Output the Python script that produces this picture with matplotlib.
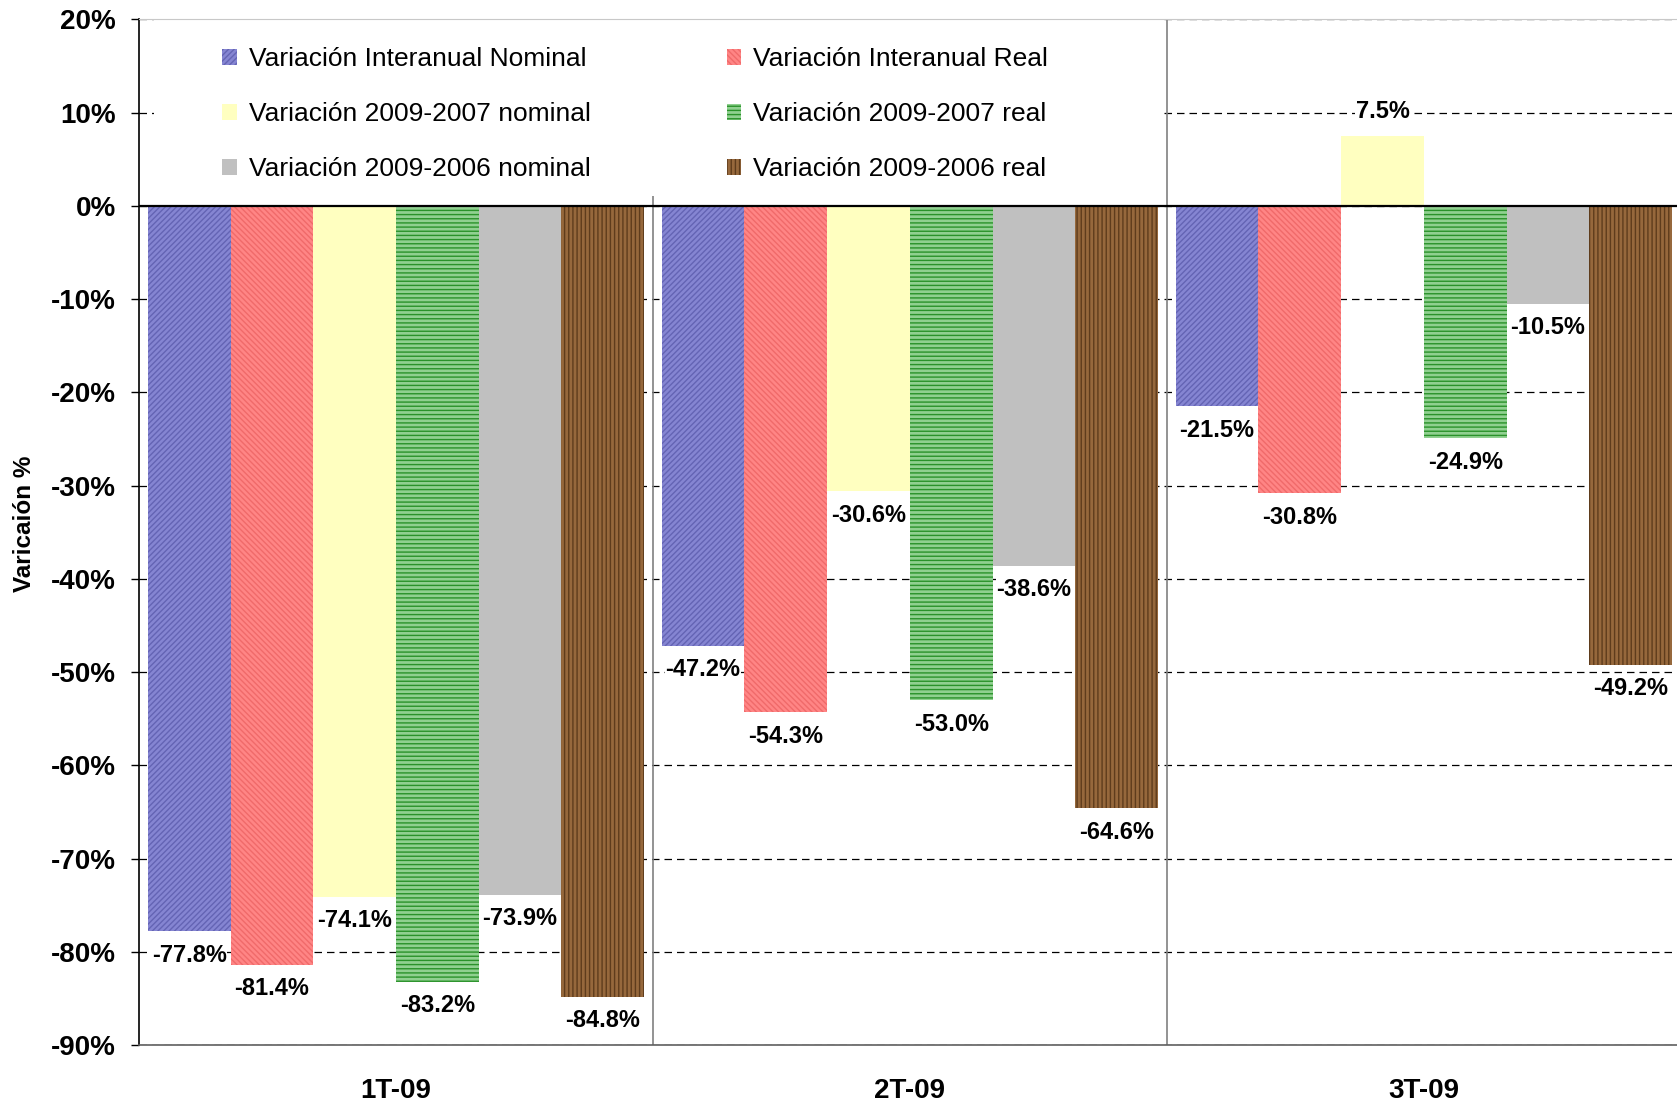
import matplotlib.pyplot as plt
import numpy as np
from matplotlib.patches import Rectangle

plt.rcParams['hatch.linewidth'] = 1.0

# data
quarters = ["1T-09", "2T-09", "3T-09"]
series = ["Variación Interanual Nominal", "Variación Interanual Real",
          "Variación 2009-2007 nominal", "Variación 2009-2007 real",
          "Variación 2009-2006 nominal", "Variación 2009-2006 real"]
inter_nom = [-77.8, -47.2, -21.5]
inter_real = [-81.4, -54.3, -30.8]
v07_nom = [-74.1, -30.6, 7.5]
v07_real = [-83.2, -53.0, -24.9]
v06_nom = [-73.9, -38.6, -10.5]
v06_real = [-84.8, -64.6, -49.2]
values = [inter_nom, inter_real, v07_nom, v07_real, v06_nom, v06_real]

faces = ['#8585D2', '#FF8585', '#FFFFC0', '#90D090', '#C0C0C0', '#96683C']
hatch_cols = ['#6464B4', '#F06A6A', '#FFFFC0', '#2A922A', '#C0C0C0', '#5E3C1C']
hatches = ['//////', '\\\\\\\\\\\\', None, '----', None, '||||']

narrow = ['Liberation Sans Narrow', 'Liberation Sans', 'DejaVu Sans']

fig = plt.figure(figsize=(16.77, 11.04), dpi=100)
ax = fig.add_axes([0.0829, 0.0534, 0.9194, 0.9291])

x = np.arange(len(quarters))
w = 0.161
bars = []
for i, vals in enumerate(values):
    b = ax.bar(x + (i - 2.5) * w, vals, w, color=faces[i], edgecolor=hatch_cols[i],
               linewidth=0, hatch=hatches[i], label=series[i], zorder=2)
    bars.append(b)
    ax.bar_label(b, labels=[f"{v:.1f}%" for v in vals], padding=9,
                 fontsize=17, fontweight='bold', family=narrow,
                 bbox=dict(facecolor='white', edgecolor='none', pad=0.5), zorder=3)

ax.set_xlim(-0.5, 2.5)
ax.set_ylim(-90, 20)
ax.set_yticks(range(-90, 21, 10))
ax.set_yticklabels([f"{v}%" for v in range(-90, 21, 10)], fontsize=20,
                   fontweight='bold', family=narrow)
ax.set_xticks(x)
ax.set_xticklabels(quarters, fontsize=20, fontweight='bold', family=narrow)
ax.tick_params(axis='x', length=0, pad=24)
ax.tick_params(axis='y', length=5.5, width=1, direction='out', pad=11)

ax.set_axisbelow(True)
ax.yaxis.grid(True, linestyle=(0, (6, 4)), color='black', linewidth=0.9)
ax.axhline(0, color='black', linewidth=1.6, zorder=2.5)
ax.vlines([0.5], -90, 1, color='#808080', linewidth=1.2, zorder=1)
ax.vlines([1.5], -90, 20, color='#808080', linewidth=1.2, zorder=1)

ax.spines['left'].set_color('black')
ax.spines['left'].set_linewidth(1.2)
ax.spines['bottom'].set_color('#606060')
ax.spines['bottom'].set_linewidth(1.2)
ax.spines['top'].set_color('#C8C8C8')
ax.spines['right'].set_visible(False)

# white legend area
ax.add_patch(Rectangle((-0.47, 1), 1.965, 19, facecolor='white', edgecolor='none', zorder=1.5))

order = [0, 2, 4, 1, 3, 5]
leg = ax.legend([bars[i] for i in order], [series[i] for i in order], ncol=2,
                loc='upper left', bbox_to_anchor=(222.5 / 1677, 1 - 47.5 / 1104),
                bbox_transform=fig.transFigure, frameon=False,
                prop={'family': ['Liberation Sans', 'DejaVu Sans'], 'size': 19},
                borderpad=0, borderaxespad=0, handlelength=0.55, handleheight=0.55,
                handletextpad=0.45, labelspacing=1.17, columnspacing=5.15)
leg.set_zorder(4)

ax.set_ylabel("Varicaión %", fontsize=17.5, fontweight='bold', family=narrow)
ax.yaxis.set_label_coords(-0.067, 0.508)

plt.savefig("out.png", dpi=100)
